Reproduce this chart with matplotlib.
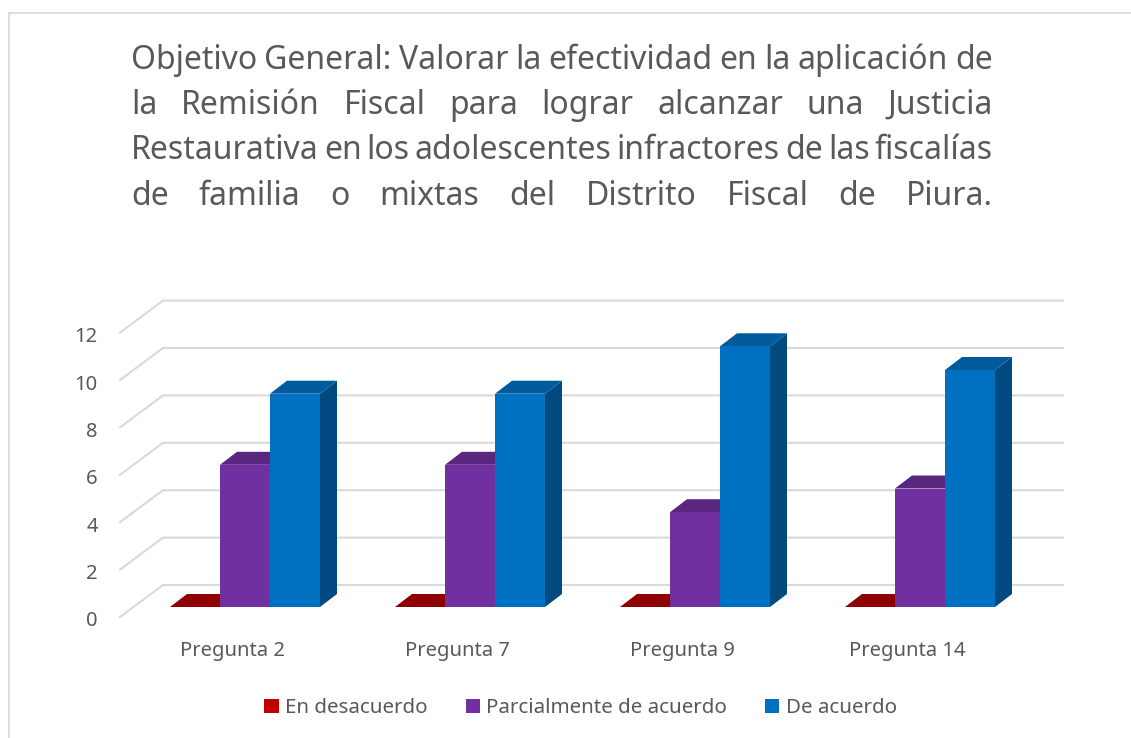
import matplotlib
matplotlib.use("Agg")
import matplotlib.pyplot as plt
from matplotlib.lines import Line2D
from matplotlib.patches import Patch, Polygon
from matplotlib.transforms import ScaledTranslation

categories = ["Pregunta 2", "Pregunta 7", "Pregunta 9", "Pregunta 14"]
series_names = ["En desacuerdo", "Parcialmente de acuerdo", "De acuerdo"]
en_desacuerdo = [0, 0, 0, 0]
parcialmente = [6, 6, 4, 5]
de_acuerdo = [9, 9, 11, 10]
y_ticks = [0, 2, 4, 6, 8, 10, 12]
title_lines = [
    "Objetivo General: Valorar la efectividad en la aplicación de",
    "la Remisión Fiscal para lograr alcanzar una Justicia",
    "Restaurativa en los adolescentes infractores de las fiscalías",
    "de familia o mixtas del Distrito Fiscal de Piura.",
]

W, H = 1131, 738
TEXT = "#595959"
GRID = "#D9D9D9"
FONT = "Noto Sans"
plt.rcParams["font.family"] = [FONT, "DejaVu Sans"]

fig = plt.figure(figsize=(W / 100, H / 100), dpi=100, facecolor="white")

def fx(x):
    return x / W

def fy(y):
    return 1 - y / H

# outer chart frame
fig.add_artist(Line2D([fx(9), fx(9)], [fy(738), fy(13)], color=GRID, lw=1.3))
fig.add_artist(Line2D([fx(9), fx(1131)], [fy(13), fy(13)], color=GRID, lw=1.3))

# justified title, word by word
TITLE_SIZE = 23.0
LEFT, RIGHT = 131, 993
BASELINES = [69, 114, 159, 205]
renderer = fig.canvas.get_renderer()
for line, base in zip(title_lines, BASELINES):
    words = line.split()
    arts = [fig.text(0, fy(base), w, fontsize=TITLE_SIZE, color=TEXT, va="baseline", ha="left") for w in words]
    widths = [a.get_window_extent(renderer).width for a in arts]
    gap = (RIGHT - LEFT - sum(widths)) / (len(words) - 1)
    x = LEFT
    for a, w in zip(arts, widths):
        a.set_x(fx(x))
        x += w + gap

# the axes is the front plane of the 3D box
front_l, front_r, zero_y, unit = 120, 1020, 617, 23.7
ax = fig.add_axes([fx(front_l), fy(zero_y), (front_r - front_l) / W, 12 * unit / H])
ax.set_xlim(-0.5, 3.5)
ax.set_ylim(0, 12)
for s in ax.spines.values():
    s.set_visible(False)
ax.patch.set_alpha(0)

per_cat = 225.0
WALL_DX, WALL_DY = 43 / per_cat, 32 / unit
BAR_DX, BAR_DY = 12.5 / per_cat, 10 / unit      # bar front face inside the box
SIDE_DX, SIDE_DY = 17 / per_cat, 13 / unit      # bar depth
BAR_W = 50 / per_cat

# walls
for v in y_ticks:
    ax.plot([-0.5, -0.5 + WALL_DX, 3.5 + WALL_DX], [v, v + WALL_DY, v + WALL_DY],
            color=GRID, lw=1.5, clip_on=False, zorder=1, solid_joinstyle="miter")

ax.set_xticks(range(len(categories)), categories)
ax.set_yticks(y_ticks, [str(v) for v in y_ticks])
ax.tick_params(axis="both", length=0, labelsize=14.5, labelcolor=TEXT)
ax.tick_params(axis="y", pad=16)
ax.tick_params(axis="x", pad=17)
shift = ScaledTranslation(0, -2 / 100, fig.dpi_scale_trans)
for t in ax.get_yticklabels():
    t.set_transform(t.get_transform() + shift)

series = [
    (en_desacuerdo, "#C00000", "#8F0000", "#800000"),
    (parcialmente, "#7030A0", "#5B2680", "#4F2170"),
    (de_acuerdo, "#0070C0", "#005A9C", "#004A80"),
]
for k, (vals, front, top, side) in enumerate(series):
    off = (k - 1) * BAR_W
    for i, v in enumerate(vals):
        x0 = i + BAR_DX + off - BAR_W / 2
        x1 = x0 + BAR_W
        y0 = BAR_DY
        y1 = BAR_DY + v
        z = 3 + k
        ax.add_patch(Polygon([(x1, y0), (x1 + SIDE_DX, y0 + SIDE_DY), (x1 + SIDE_DX, y1 + SIDE_DY), (x1, y1)],
                             closed=True, fc=side, ec="none", clip_on=False, zorder=z))
        ax.add_patch(Polygon([(x0, y1), (x0 + SIDE_DX, y1 + SIDE_DY), (x1 + SIDE_DX, y1 + SIDE_DY), (x1, y1)],
                             closed=True, fc=top, ec="none", clip_on=False, zorder=z))
        if v > 0:
            ax.bar(x0 + BAR_W / 2, v, BAR_W, bottom=y0, color=front, clip_on=False, zorder=z + 0.5)

handles = [Patch(fc=c[1], ec="none") for c in series]
fig.legend(handles, series_names, loc="center", bbox_to_anchor=(fx(580.5), fy(708)), ncol=3,
           frameon=False, fontsize=14.8, labelcolor=TEXT, handlelength=0.7, handleheight=0.7,
           handletextpad=0.3, columnspacing=1.85, borderpad=0, borderaxespad=0)

fig.savefig("out.png", dpi=100, facecolor="white")
